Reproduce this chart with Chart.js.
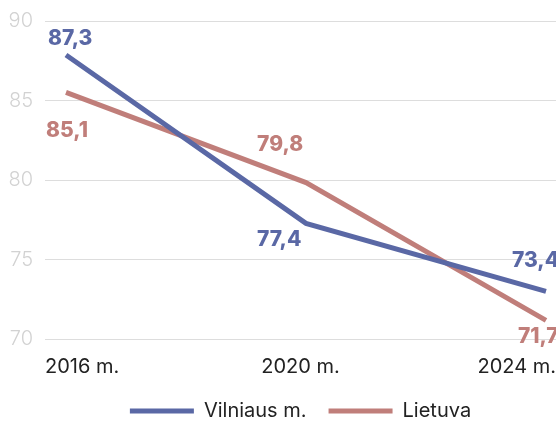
<!DOCTYPE html>
<html>
<head>
<meta charset="utf-8">
<script src="https://cdn.jsdelivr.net/npm/chart.js@4.4.1/dist/chart.umd.min.js"></script>
<style>
  html, body { margin: 0; padding: 0; background: #fff; }
  #wrap { width: 556px; height: 421px; }
</style>
</head>
<body>
<div id="wrap"><canvas id="trend-chart"></canvas></div>
<script>
var years = ['2016 m.', '2020 m.', '2024 m.'];
var vilnius = [87.3, 77.4, 73.4];
var lietuva = [85.1, 79.8, 71.7];
var yTicks = [70, 75, 80, 85, 90];

var blue = '#5a68a5';
var red = '#c07e7a';

// where each value label sits relative to its point (left edge, vertical middle)
var labelOffsets = {
    0: [[-18, -16], [-49, 16], [-34, -31]],
    1: [[-20, 38], [-49, -38], [-28, 16]]
};

var valueLabels = {
    id: 'valueLabels',
    afterDatasetsDraw: function (chart) {
        var ctx = chart.ctx;
        ctx.save();
        ctx.font = '800 21px Inter';
        ctx.textAlign = 'left';
        ctx.textBaseline = 'middle';
        chart.data.datasets.forEach(function (ds, di) {
            var meta = chart.getDatasetMeta(di);
            ctx.fillStyle = ds.borderColor;
            meta.data.forEach(function (pt, i) {
                var off = labelOffsets[di][i];
                var txt = ds.data[i].y.toFixed(1).replace('.', ',');
                ctx.fillText(txt, pt.x + off[0], pt.y + off[1]);
            });
        });
        ctx.restore();
    }
};

function points(values) {
    return values.map((v, i) => ({ x: i, y: v }));
}

new Chart(document.getElementById('trend-chart'), {
    type: 'line',
    data: {
        labels: years,
        datasets: [
            {
                label: 'Vilniaus m.',
                data: points(vilnius),
                borderColor: blue,
                backgroundColor: blue,
                borderWidth: 5,
                pointRadius: 0,
                tension: 0,
                xAxisID: 'xd',
                yAxisID: 'yd'
            },
            {
                label: 'Lietuva',
                data: points(lietuva),
                borderColor: red,
                backgroundColor: red,
                borderWidth: 5,
                pointRadius: 0,
                tension: 0,
                xAxisID: 'xd',
                yAxisID: 'yd'
            }
        ]
    },
    options: {
        responsive: true,
        maintainAspectRatio: false,
        animation: false,
        layout: { padding: { top: 21, left: 8, right: 0, bottom: -10 } },
        plugins: {
            tooltip: { enabled: false },
            legend: {
                position: 'bottom',
                fullSize: false,
                labels: {
                    boxWidth: 64,
                    boxHeight: 5,
                    padding: 22,
                    color: '#222',
                    font: { family: 'Inter', size: 20 },
                    generateLabels: function (chart) {
                        var items = Chart.defaults.plugins.legend.labels.generateLabels(chart);
                        items.forEach(function (it) { it.lineWidth = 0; });
                        return items;
                    }
                }
            }
        },
        scales: {
            x: {
                type: 'category',
                grid: { display: false, drawTicks: false },
                border: { display: false },
                ticks: {
                    align: 'inner',
                    color: '#222',
                    font: { family: 'Inter', size: 20 },
                    padding: 16,
                    maxRotation: 0,
                    autoSkip: false
                },
                afterFit: function (scale) {
                    scale.paddingLeft = 0;
                    scale.paddingRight = 0;
                    scale.height = 40;
                }
            },
            xd: { type: 'linear', display: false, min: -0.0875, max: 2.0417 },
            y: {
                min: 70,
                max: 90,
                afterBuildTicks: function (axis) {
                    axis.ticks = yTicks.map(v => ({ value: v }));
                },
                afterFit: function (scale) {
                    scale.width = 37;
                    scale.paddingTop = 0;
                    scale.paddingBottom = 0;
                },
                grid: { color: '#dddddd', drawTicks: false },
                border: { display: false },
                ticks: {
                    color: '#d2d2d2',
                    font: { family: 'Inter', size: 20, weight: 300 },
                    padding: 12
                }
            },
            yd: { display: false, min: 70.6, max: 89.3 }
        }
    },
    plugins: [valueLabels]
});
</script>
</body>
</html>
